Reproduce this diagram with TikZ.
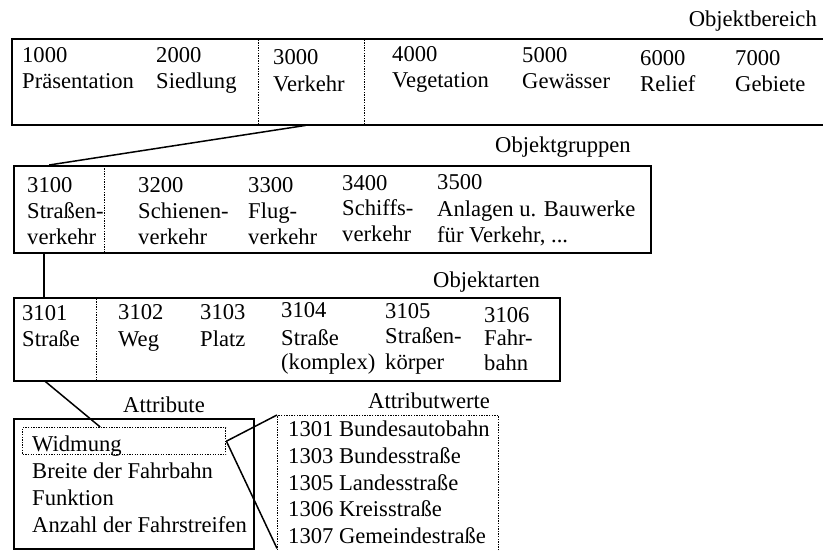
\documentclass[tikz,border=0pt]{standalone}
\usepackage{fontspec}
\setmainfont{Liberation Serif}
\usetikzlibrary{positioning}
\tikzset{
  box/.style={
    rectangle, draw=black, line width=1.7pt, anchor=north west, inner sep=0pt
  },
  dotbox/.style={
    rectangle, draw=black, line width=1.4pt, dash pattern=on 1.3pt off 1.3pt,
    anchor=north west, inner sep=0pt
  },
  lbl/.style={
    anchor=base west, inner sep=0pt
  },
  link/.style={
    line width=1.5pt, color=black
  }
}

\begin{document}
\begin{tikzpicture}[x=1pt, y=-1pt, every node/.style={font=\fontsize{22.6}{26}\selectfont}]
  \useasboundingbox (0,0) rectangle (823,551);

  % Objektbereich
  \node[anchor=base east, inner sep=0pt] (lbereich) at (817,27) {Objektbereich};
  \node[box, minimum width=814pt, minimum height=86pt] (bereich) at (11,38) {};
  \node[dotbox, minimum width=106pt, minimum height=86pt] (verkehr) at (258,38) {};
  \node[lbl] (n1000) at (22,63) {1000};
  \node[lbl] (t1000) at (22,89) {Präsentation};
  \node[lbl] (n2000) at (156,63) {2000};
  \node[lbl] (t2000) at (156,89) {Siedlung};
  \node[lbl] (n3000) at (273,65) {3000};
  \node[lbl] (t3000) at (273,92) {Verkehr};
  \node[lbl] (n4000) at (392,62) {4000};
  \node[lbl] (t4000) at (392,88) {Vegetation};
  \node[lbl] (n5000) at (522,63) {5000};
  \node[lbl] (t5000) at (522,89) {Gewässer};
  \node[lbl] (n6000) at (640,66) {6000};
  \node[lbl] (t6000) at (640,92) {Relief};
  \node[lbl] (n7000) at (735,66) {7000};
  \node[lbl] (t7000) at (735,92) {Gebiete};

  % Objektgruppen
  \node[lbl] (lgruppen) at (495,153) {Objektgruppen};
  \node[box, minimum width=637pt, minimum height=87pt] (gruppen) at (13,165) {};
  \node[dotbox, minimum width=91pt, minimum height=87pt] (svk) at (13,165) {};
  \node[lbl] (n3100) at (27,193) {3100};
  \node[lbl] (t3100) at (27,218) {Straßen-};
  \node[lbl] (u3100) at (27,244) {verkehr};
  \node[lbl] (n3200) at (138,193) {3200};
  \node[lbl] (t3200) at (138,218) {Schienen-};
  \node[lbl] (u3200) at (138,244) {verkehr};
  \node[lbl] (n3300) at (248,193) {3300};
  \node[lbl] (t3300) at (248,218) {Flug-};
  \node[lbl] (u3300) at (248,244) {verkehr};
  \node[lbl] (n3400) at (342,190) {3400};
  \node[lbl] (t3400) at (342,215) {Schiffs-};
  \node[lbl] (u3400) at (342,241) {verkehr};
  \node[lbl] (n3500) at (437,189) {3500};
  \node[lbl] (t3500) at (437,216) {Anlagen u. Bauwerke};
  \node[lbl] (u3500) at (437,242) {für Verkehr, ...};

  % Objektarten
  \node[lbl] (larten) at (433,287) {Objektarten};
  \node[box, minimum width=546pt, minimum height=83pt] (arten) at (13,297) {};
  \node[dotbox, minimum width=83pt, minimum height=83pt] (str) at (13,297) {};
  \node[lbl] (n3101) at (22,320) {3101};
  \node[lbl] (t3101) at (22,346) {Straße};
  \node[lbl] (n3102) at (118,319) {3102};
  \node[lbl] (t3102) at (118,346) {Weg};
  \node[lbl] (n3103) at (200,319) {3103};
  \node[lbl] (t3103) at (200,346) {Platz};
  \node[lbl] (n3104) at (281,317) {3104};
  \node[lbl] (t3104) at (281,345) {Straße};
  \node[lbl] (u3104) at (281,369) {(komplex)};
  \node[lbl] (n3105) at (385,318) {3105};
  \node[lbl] (t3105) at (385,343) {Straßen-};
  \node[lbl] (u3105) at (385,369) {körper};
  \node[lbl] (n3106) at (484,322) {3106};
  \node[lbl] (t3106) at (484,345) {Fahr-};
  \node[lbl] (u3106) at (484,370) {bahn};

  % Attribute
  \node[lbl] (lattr) at (123,412) {Attribute};
  \node[box, minimum width=240pt, minimum height=130pt] (attr) at (13,418) {};
  \node[dotbox, minimum width=203pt, minimum height=27pt] (widmung) at (22,427) {};
  \node[lbl] (a1) at (32,451) {Widmung};
  \node[lbl] (a2) at (32,478) {Breite der Fahrbahn};
  \node[lbl] (a3) at (32,505) {Funktion};
  \node[lbl] (a4) at (32,532) {Anzahl der Fahrstreifen};

  % Attributwerte
  \node[lbl] (lwerte) at (368,408) {Attributwerte};
  \node[dotbox, minimum width=221pt, minimum height=145pt] (werte) at (277,415) {};
  \node[lbl] (w1) at (288,436) {1301 Bundesautobahn};
  \node[lbl] (w2) at (288,463) {1303 Bundesstraße};
  \node[lbl] (w3) at (288,490) {1305 Landesstraße};
  \node[lbl] (w4) at (288,516) {1306 Kreisstraße};
  \node[lbl] (w5) at (288,543) {1307 Gemeindestraße};
  \coordinate (wend) at ([yshift=13pt]werte.south west);

  % Links
  \draw[link] ([xshift=-6pt]verkehr.south) -- ([xshift=-10pt]svk.north);
  \draw[link] ([xshift=-15pt]svk.south) -- ([xshift=-15pt]svk.south |- str.north);
  \draw[link] ([xshift=-10pt]str.south) -- ([xshift=-24pt]widmung.north);
  \draw[link] (widmung.east) -- (werte.north west);
  \draw[link] (widmung.east) -- (wend);
\end{tikzpicture}
\end{document}
